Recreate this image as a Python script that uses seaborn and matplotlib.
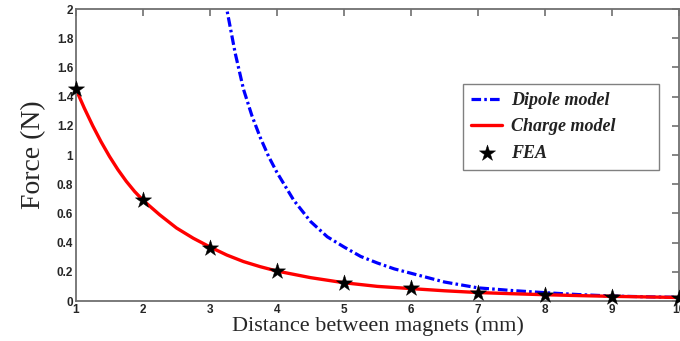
import matplotlib
matplotlib.use("Agg")
import matplotlib.pyplot as plt
import seaborn as sns
import pandas as pd

# ---- data ----
charge_x = [1.0, 1.125, 1.25, 1.375, 1.5, 1.625, 1.75, 1.875, 2.0, 2.25, 2.5, 2.75,
            3.0, 3.25, 3.5, 3.75, 4.0, 4.5, 5.0, 5.5, 6.0, 6.5, 7.0, 7.5, 8.0, 8.5,
            9.0, 9.5, 10.0]
charge_y = [1.45, 1.32, 1.20, 1.09, 0.99, 0.90, 0.82, 0.75, 0.69, 0.59, 0.50, 0.43,
            0.37, 0.315, 0.27, 0.235, 0.205, 0.16, 0.125, 0.10, 0.085, 0.07, 0.058,
            0.05, 0.043, 0.037, 0.032, 0.028, 0.024]

dipole_x = [3.0, 3.125, 3.25, 3.375, 3.5, 3.625, 3.75, 3.875, 4.0, 4.25, 4.5, 4.75,
            5.0, 5.25, 5.5, 5.75, 6.0, 6.25, 6.5, 6.75, 7.0, 7.5, 8.0, 8.5, 9.0,
            9.5, 10.0]
dipole_y = [2.80, 2.37, 2.00, 1.70, 1.45, 1.27, 1.12, 0.99, 0.88, 0.69, 0.545, 0.44,
            0.37, 0.305, 0.26, 0.22, 0.19, 0.16, 0.13, 0.11, 0.09, 0.072, 0.057,
            0.044, 0.034, 0.029, 0.025]

fea_x = [1, 2, 3, 4, 5, 6, 7, 8, 9, 10]
fea_y = [1.45, 0.69, 0.36, 0.205, 0.12, 0.09, 0.053, 0.04, 0.03, 0.02]

xticks = [1, 2, 3, 4, 5, 6, 7, 8, 9, 10]
yticks = [0, 0.2, 0.4, 0.6, 0.8, 1, 1.2, 1.4, 1.6, 1.8, 2]
ytick_labels = ["0", "0.2", "0.4", "0.6", "0.8", "1", "1.2", "1.4", "1.6", "1.8", "2"]

sns.set_style("white")
plt.rcParams["font.family"] = ["Liberation Sans", "DejaVu Sans"]

fig = plt.figure(figsize=(6.8, 3.41), dpi=100)
ax = fig.add_axes([76 / 680, 1 - 301 / 341, 603 / 680, 292 / 341])

df_d = pd.DataFrame({"x": dipole_x, "y": dipole_y})
df_c = pd.DataFrame({"x": charge_x, "y": charge_y})
df_f = pd.DataFrame({"x": fea_x, "y": fea_y})

sns.lineplot(data=df_d, x="x", y="y", ax=ax, color="#0000ff", lw=2.3,
             linestyle=(0, (3.0, 1.0, 0.8, 1.0)), label="Dipole model", sort=False)
sns.lineplot(data=df_c, x="x", y="y", ax=ax, color="#ff0000", lw=2.4,
             label="Charge model", sort=False)
sns.scatterplot(data=df_f, x="x", y="y", ax=ax, color="black", marker="*",
                s=150, edgecolor="black", linewidth=0.3, label="FEA", zorder=5,
                clip_on=False)

ax.set_xlim(1, 10)
ax.set_ylim(0, 2)
ax.set_xticks(xticks)
ax.set_xticklabels([str(t) for t in xticks])
ax.set_yticks(yticks)
ax.set_yticklabels(ytick_labels)

spine_col = "#707070"
for s in ax.spines.values():
    s.set_visible(True)
    s.set_color(spine_col)
    s.set_linewidth(1.3)

ax.tick_params(axis="both", direction="in", length=5, width=1.2, color=spine_col,
               top=True, right=True, labelsize=8.5, pad=2)
for lab in ax.get_xticklabels() + ax.get_yticklabels():
    lab.set_fontweight("bold")

ax.set_xlabel("Distance between magnets (mm)", family=["Liberation Serif"],
              fontsize=16, labelpad=0)
ax.set_ylabel("Force (N)", family=["Liberation Serif"], fontsize=20, labelpad=8)

leg = ax.legend(loc="upper left", bbox_to_anchor=(0.642, 0.742, 0.325, 0),
                mode="expand", borderaxespad=0,
                frameon=True, fancybox=False, handlelength=1.7, handletextpad=0.5,
                borderpad=0.45, labelspacing=0.5,
                prop={"family": "Liberation Serif", "style": "italic",
                      "weight": "bold", "size": 13})
leg.get_frame().set_edgecolor("#606060")
leg.get_frame().set_linewidth(1.0)
for t in leg.get_texts():
    t.set_color("#222222")

fig.savefig("out.png", dpi=100)
